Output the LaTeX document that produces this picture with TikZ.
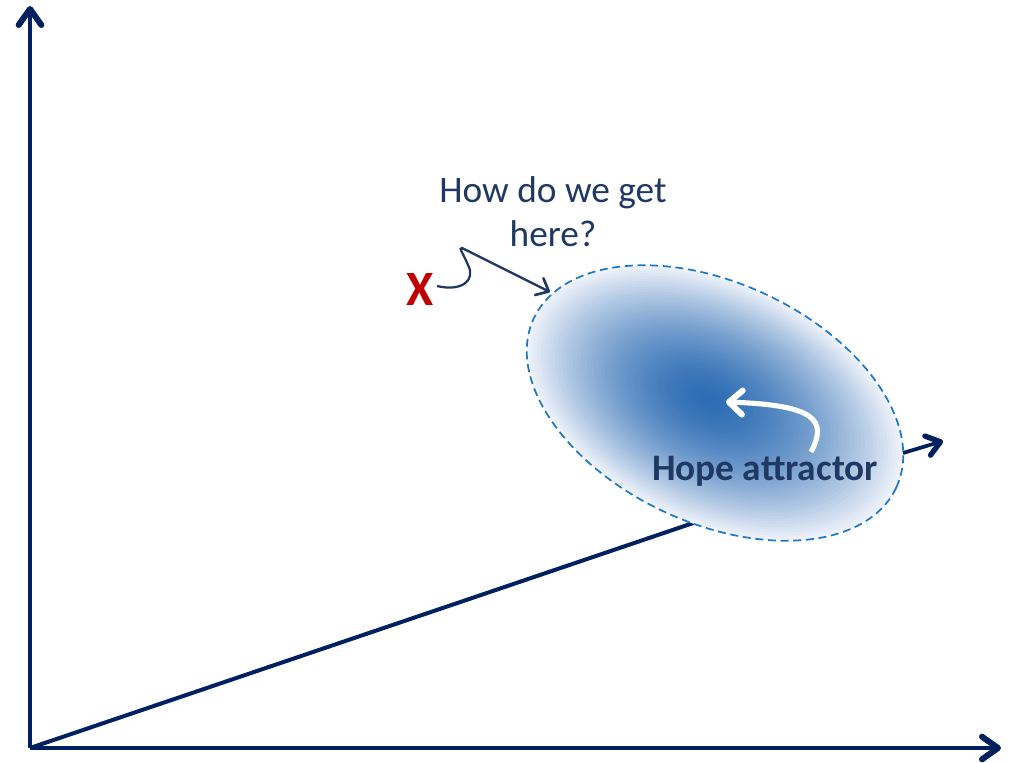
\documentclass[tikz,border=0pt]{standalone}
\usepackage{fontspec}
\setmainfont{Carlito}
\usetikzlibrary{arrows.meta}
\definecolor{navy}{HTML}{002060}
\definecolor{txt}{HTML}{1F3864}
\definecolor{dashblue}{HTML}{1F78C8}
\definecolor{core}{HTML}{2E6DB4}
\definecolor{rim}{HTML}{EEF2FA}
\definecolor{xred}{HTML}{C00000}
\begin{document}
\begin{tikzpicture}[x=0.75pt,y=-0.75pt,
  axis/.style={navy, line width=3.2pt, -{Straight Barb[length=12pt,width=17pt,line width=4.5pt, round]}},
  lbl/.style={txt, font=\fontsize{28}{33}\selectfont, align=center, inner sep=0pt}]
\useasboundingbox (0,0) rectangle (1013,763);
\coordinate (O) at (30,748);
\coordinate (ytop) at (30,6);
\coordinate (xend) at (1001,748);
\coordinate (diagEnd) at (705,519);
\draw[navy, line width=3pt] (O) -- (diagEnd);
\draw[axis] (O) -- (ytop);
\draw[axis] (O) -- (xend);
% attractor ellipse
\begin{scope}[shift={(715,403)}, rotate=-25]
  \foreach \i in {0,...,50}{
    \pgfmathsetmacro\r{1-\i/51}
    \pgfmathsetmacro\p{100*(1-\r^1.6)}
    \fill[core!\p!rim] (-8*\i/50,0) ellipse ({200*\r} and {120*\r});
  }
  \draw[dashblue, line width=1.3pt, dash pattern=on 6pt off 3.5pt] (0,0) ellipse (200 and 120);
\end{scope}
% arrow out
\coordinate (ra1) at (903,453);
\coordinate (ra2) at (943,441);
\draw[navy, line width=2.8pt, -{Straight Barb[length=10pt,width=15pt,line width=4pt, round]}] (ra1) -- (ra2);
% white arrow
\coordinate (wa1) at (811,452);
\coordinate (wa2) at (726,402);
\draw[white, line width=3.8pt, -{Straight Barb[length=10pt,width=18pt,line width=4.5pt, round]}] (wa1) .. controls (828,420) and (815,405) .. (wa2);
% texts
\node[lbl] (q) at (553,212) {How do we get\\here?};
\node[lbl, font=\bfseries\fontsize{28}{33}\selectfont] (hope) at (765,471) {Hope attractor};
\node[xred, font=\bfseries\fontsize{37}{40}\selectfont, inner sep=0pt] (X) at (420,290) {X};
% squiggle
\coordinate (s1) at (437,286);
\coordinate (s2) at (462,248);
\coordinate (s3) at (550,292);
\draw[txt, line width=1.7pt, -{Straight Barb[length=8pt,width=14pt,line width=2pt, round]}] (s1) .. controls (462,292) and (476,280) .. (468,265) .. controls (464,255) and (458,247) .. (s2) -- (s3);
\end{tikzpicture}
\end{document}
